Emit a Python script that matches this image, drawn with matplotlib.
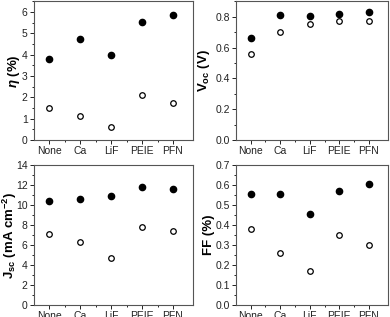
import numpy as np
import matplotlib
matplotlib.use("Agg")
import matplotlib.pyplot as plt
from matplotlib.ticker import MultipleLocator, FixedLocator

plt.rcParams['font.family'] = ['Liberation Sans', 'DejaVu Sans']
plt.rcParams['mathtext.fontset'] = 'custom'
plt.rcParams['mathtext.rm'] = 'Liberation Sans'
plt.rcParams['mathtext.it'] = 'Liberation Sans:italic:bold'
plt.rcParams['mathtext.bf'] = 'Liberation Sans:bold'

categories = ["None", "Ca", "LiF", "PEIE", "PFN"]

eta_filled = [3.8, 4.75, 3.98, 5.52, 5.85]
eta_open = [1.52, 1.15, 0.6, 2.12, 1.72]
voc_filled = [0.66, 0.81, 0.805, 0.82, 0.83]
voc_open = [0.56, 0.70, 0.75, 0.775, 0.77]
jsc_filled = [10.4, 10.55, 10.85, 11.8, 11.6]
jsc_open = [7.05, 6.3, 4.65, 7.75, 7.4]
ff_filled = [0.555, 0.553, 0.455, 0.568, 0.605]
ff_open = [0.38, 0.26, 0.17, 0.35, 0.30]

panels = [
    # (rect, filled, open, ylim, major, minor, ylabel, label x)
    ([0.087, 0.558, 0.408, 0.438], eta_filled, eta_open, (0, 6.5), 1, 0.5,
     r"$\mathit{\eta}$ (%)", -0.075),
    ([0.605, 0.558, 0.390, 0.438], voc_filled, voc_open, (0, 0.9), 0.2, 0.1,
     r"V$_{\mathbf{oc}}$ (V)", -0.155),
    ([0.087, 0.038, 0.408, 0.442], jsc_filled, jsc_open, (0, 14), 2, 1,
     r"J$_{\mathbf{sc}}$ (mA cm$^{\mathbf{-2}}$)", -0.095),
    ([0.605, 0.038, 0.390, 0.442], ff_filled, ff_open, (0, 0.7), 0.1, 0.05,
     "FF (%)", -0.135),
]

fig = plt.figure(figsize=(3.9, 3.17), dpi=100)
x = np.arange(len(categories))

for rect, filled, hollow, ylim, major, minor, ylabel, label_x in panels:
    ax = fig.add_axes(rect)
    ax.plot(x, filled, 'o', color='black', markersize=4.5, linestyle='none')
    ax.plot(x, hollow, 'o', markerfacecolor='white', markeredgecolor='black',
            markersize=4, markeredgewidth=0.9, linestyle='none')
    ax.set_xlim(-0.5, 4.65)
    ax.set_ylim(*ylim)
    ax.set_xticks(x)
    ax.set_xticklabels(categories)
    ax.xaxis.set_minor_locator(FixedLocator(x[:-1] + 0.5))
    ax.yaxis.set_major_locator(MultipleLocator(major))
    ax.yaxis.set_minor_locator(MultipleLocator(minor))
    ax.tick_params(axis='both', which='major', labelsize=7.5, length=3,
                   width=0.7, pad=1.5, colors='#222222')
    ax.tick_params(axis='both', which='minor', length=1.5, width=0.6)
    ax.set_ylabel(ylabel, fontsize=9.5, fontweight='bold')
    ax.yaxis.set_label_coords(label_x, 0.5)
    for spine in ax.spines.values():
        spine.set_color('#555555')
        spine.set_linewidth(0.8)

fig.savefig("out.png", dpi=100)
